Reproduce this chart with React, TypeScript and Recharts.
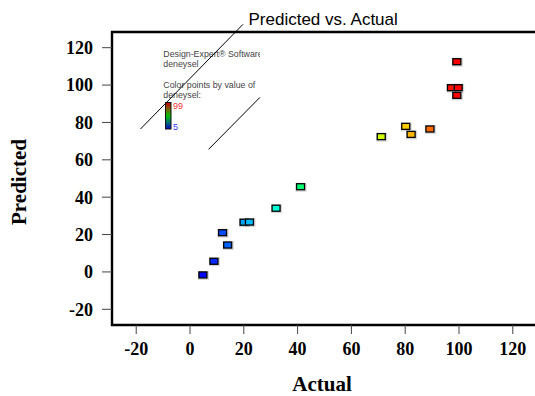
import React from 'react';
import { ScatterChart, Scatter, XAxis, YAxis, ReferenceLine, ReferenceArea, Customized } from 'recharts';

const actual = [4.8, 8.9, 12.1, 14.0, 20.1, 22.1, 32.0, 41.1, 71.1, 80.2, 82.2, 89.2, 97.2, 99.7, 99.2, 99.2];
const predicted = [-1.6, 5.7, 21.0, 14.4, 26.6, 26.7, 34.1, 45.6, 72.4, 77.9, 73.6, 76.5, 98.6, 98.6, 94.5, 112.5];
const ticks = [-20, 0, 20, 40, 60, 80, 100, 120];
const colorMin = 5;
const colorMax = 99;
const line1 = [{ x: -18.4, y: 76.5 }, { x: 19.7, y: 132.5 }];
const line2 = [{ x: 6.9, y: 65.6 }, { x: 26.0, y: 93.4 }];

const data = actual.map((a, i) => ({ actual: a, predicted: predicted[i] }));

function colorFor(v: number) {
  let t = (v - colorMin) / (colorMax - colorMin);
  t = Math.max(0, Math.min(1, t));
  const hue = 240 * (1 - t);
  return `hsl(${hue}, 100%, 50%)`;
}

const Box = (props: any) => {
  const { cx, cy, payload } = props;
  if (cx == null || cy == null) return null;
  return (
    <g>
      <rect x={cx - 5} y={cy - 4} width={11} height={9} fill="#999" opacity={0.4} />
      <rect x={cx - 4} y={cy - 3} width={8} height={6} fill={colorFor(payload.actual)} stroke="#000" strokeWidth={1.3} />
    </g>
  );
};

const Decor = () => {
  const sans = "'Liberation Sans', Arial, sans-serif";
  const serif = "'Liberation Serif', 'Times New Roman', serif";
  return (
    <g>
      <defs>
        <linearGradient id="cbar" x1="0" y1="0" x2="0" y2="1">
          <stop offset="0%" stopColor="#c00000" />
          <stop offset="25%" stopColor="#806000" />
          <stop offset="50%" stopColor="#00c000" />
          <stop offset="75%" stopColor="#007070" />
          <stop offset="100%" stopColor="#0000c0" />
        </linearGradient>
        <clipPath id="legclip">
          <rect x={150} y={40} width={110} height={100} />
        </clipPath>
      </defs>
      <text x={248.5} y={25} fontFamily={sans} fontSize={17} fill="#000">Predicted vs. Actual</text>
      <g clipPath="url(#legclip)" fontFamily={sans} fontSize={8.8} fill="#444">
        <text x={163.3} y={57.3}>Design-Expert® Software</text>
        <text x={163.3} y={66.7}>deneysel</text>
        <text x={163.3} y={87.7}>Color points by value of</text>
        <text x={163.3} y={98.3}>deneysel:</text>
      </g>
      <rect x={165.5} y={102.5} width={5.5} height={26.5} fill="url(#cbar)" stroke="#111" strokeWidth={1} />
      <text x={173} y={108.5} fontFamily={sans} fontSize={9} fill="#ff3333">99</text>
      <text x={173} y={130} fontFamily={sans} fontSize={9} fill="#3333ff">5</text>
      <text x={322} y={391} textAnchor="middle" fontFamily={serif} fontWeight="bold" fontSize={21} fill="#000">Actual</text>
      <text x={0} y={0} transform="translate(26, 182) rotate(-90)" textAnchor="middle" fontFamily={serif} fontWeight="bold" fontSize={21} fill="#000">Predicted</text>
    </g>
  );
};

const tickStyle = { fontFamily: "'Liberation Serif', 'Times New Roman', serif", fontWeight: 'bold', fontSize: 18, fill: '#000' };

export default function App() {
  return (
    <div style={{ position: 'absolute', left: 0, top: 0, width: 535, height: 396, overflow: 'hidden', background: '#fff' }}>
      <ScatterChart width={540} height={396} margin={{ top: 32, right: 3, bottom: 0, left: 0 }}>
        <XAxis
          type="number"
          dataKey="actual"
          domain={[-29, 129]}
          ticks={ticks}
          allowDataOverflow
          height={71}
          tickSize={9}
          tickMargin={8}
          axisLine={false}
          tickLine={{ stroke: '#444', strokeWidth: 1 }}
          tick={tickStyle}
        />
        <YAxis
          type="number"
          dataKey="predicted"
          domain={[-28.4, 128.4]}
          ticks={ticks}
          allowDataOverflow
          width={112}
          tickSize={10}
          tickMargin={9}
          axisLine={false}
          tickLine={{ stroke: '#444', strokeWidth: 1 }}
          tick={tickStyle}
        />
        <ReferenceArea x1={-29} x2={129} y1={-28.4} y2={128.4} fill="none" stroke="#000" strokeWidth={2.4} ifOverflow="visible" />
        <ReferenceLine segment={line1} stroke="#000" strokeWidth={1} ifOverflow="visible" />
        <ReferenceLine segment={line2} stroke="#000" strokeWidth={1} ifOverflow="visible" />
        <Scatter data={data} shape={<Box />} isAnimationActive={false} />
        <Customized component={<Decor />} />
      </ScatterChart>
    </div>
  );
}
